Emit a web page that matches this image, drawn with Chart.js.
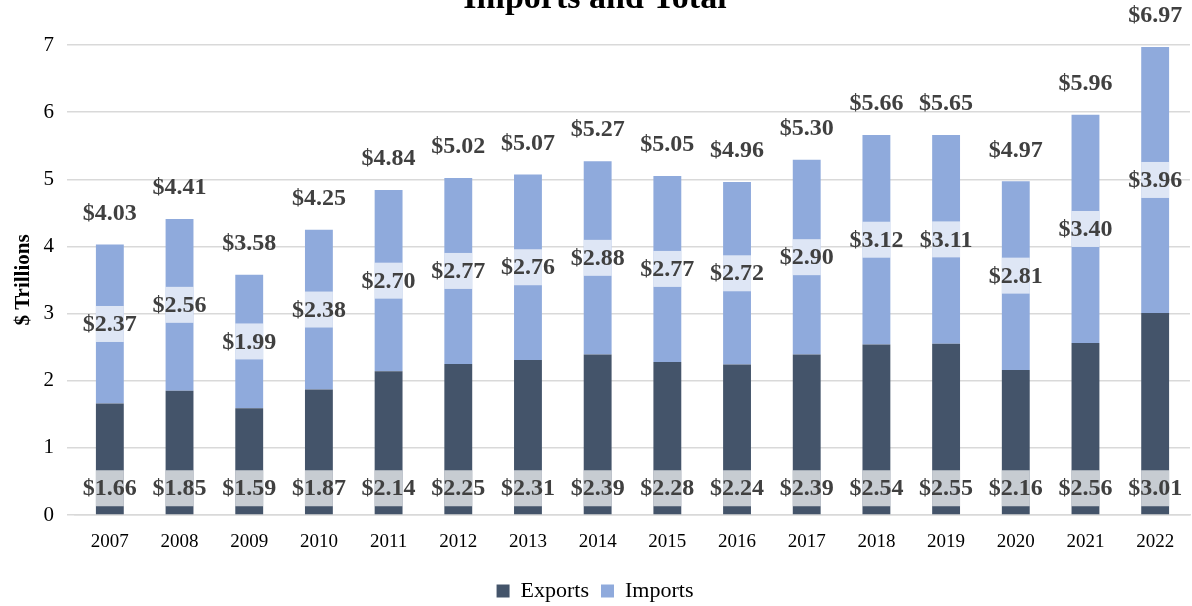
<!DOCTYPE html>
<html lang="en">
<head>
  <meta charset="UTF-8" />
  <title>Imports and Total</title>
  <script src="https://cdn.jsdelivr.net/npm/chart.js"></script>
  <style>
    html, body { margin: 0; padding: 0; background: #fff; overflow: hidden; }
    #wrap { position: relative; width: 1192px; height: 606px; }
  </style>
</head>
<body>
<div id="wrap"><canvas id="tradeChart"></canvas></div>

<script>
const years = ['2007', '2008', '2009', '2010', '2011', '2012', '2013', '2014',
               '2015', '2016', '2017', '2018', '2019', '2020', '2021', '2022'];
const exportsTn = [1.66, 1.85, 1.59, 1.87, 2.14, 2.25, 2.31, 2.39, 2.28, 2.24, 2.39, 2.54, 2.55, 2.16, 2.56, 3.01];
const importsTn = [2.37, 2.56, 1.99, 2.38, 2.70, 2.77, 2.76, 2.88, 2.77, 2.72, 2.90, 3.12, 3.11, 2.81, 3.40, 3.96];
const totalsTn  = [4.03, 4.41, 3.58, 4.25, 4.84, 5.02, 5.07, 5.27, 5.05, 4.96, 5.30, 5.66, 5.65, 4.97, 5.96, 6.97];

const serif = '"Liberation Serif", "DejaVu Serif", serif';
const fmt = v => '$' + v.toFixed(2);

// data labels like the excel ones: boxed at base / middle, plain on top
const barLabels = {
  id: 'barLabels',
  afterDatasetsDraw(chart) {
    const ctx = chart.ctx;
    const exp = chart.getDatasetMeta(0).data;
    const imp = chart.getDatasetMeta(1).data;
    ctx.save();
    ctx.font = 'bold 24px ' + serif;
    ctx.textAlign = 'center';
    ctx.textBaseline = 'middle';
    const box = (bar, cy) => {
      ctx.fillStyle = 'rgba(255,255,255,0.7)';
      ctx.fillRect(bar.x - bar.width / 2, cy - 18, bar.width, 36);
    };
    exp.forEach((bar, i) => {
      const cy = bar.base - 26;
      box(bar, cy);
      ctx.fillStyle = '#404040';
      ctx.fillText(fmt(exportsTn[i]), bar.x, cy + 1);
    });
    imp.forEach((bar, i) => {
      const cy = (bar.y + bar.base) / 2;
      box(bar, cy);
      ctx.fillStyle = '#404040';
      ctx.fillText(fmt(importsTn[i]), bar.x, cy + 1);
      ctx.fillText(fmt(totalsTn[i]), bar.x, bar.y - 31);
    });
    // title sits mostly above the top edge in the original
    ctx.fillStyle = '#000';
    ctx.font = 'bold 34px ' + serif;
    ctx.textBaseline = 'alphabetic';
    ctx.fillText('Imports and Total', 595, 8);
    ctx.restore();
  }
};

new Chart(document.getElementById('tradeChart'), {
  type: 'bar',
  data: {
    labels: years,
    datasets: [
      { label: 'Exports', data: exportsTn, backgroundColor: '#44546a' },
      { label: 'Imports', data: importsTn, backgroundColor: '#8faadc' }
    ]
  },
  options: {
    responsive: true,
    maintainAspectRatio: false,
    animation: false,
    layout: { padding: { top: 45, right: 2, left: 0, bottom: -6 } },
    datasets: { bar: { categoryPercentage: 1, barPercentage: 0.4 } },
    plugins: {
      legend: {
        position: 'bottom',
        labels: {
          font: { family: serif, size: 22 },
          color: '#000',
          boxWidth: 13,
          boxHeight: 13,
          padding: 12
        }
      },
      tooltip: { enabled: false }
    },
    scales: {
      x: {
        stacked: true,
        grid: { display: false },
        border: { color: '#d9d9d9', width: 1.5 },
        afterFit: s => { s.height = 53; },
        ticks: { font: { family: serif, size: 19 }, color: '#000', padding: 8 }
      },
      y: {
        stacked: true,
        min: 0,
        max: 7,
        afterFit: s => { s.width = 75; },
        grid: { color: '#d9d9d9', lineWidth: 1.5 },
        border: { display: false },
        ticks: { stepSize: 1, font: { family: serif, size: 21 }, color: '#000', padding: 13 },
        title: {
          display: true,
          text: '$ Trillions',
          font: { family: serif, size: 21, weight: 'bold' },
          color: '#000',
          padding: { top: 11, bottom: 0 }
        }
      }
    }
  },
  plugins: [barLabels]
});
</script>
</body>
</html>
